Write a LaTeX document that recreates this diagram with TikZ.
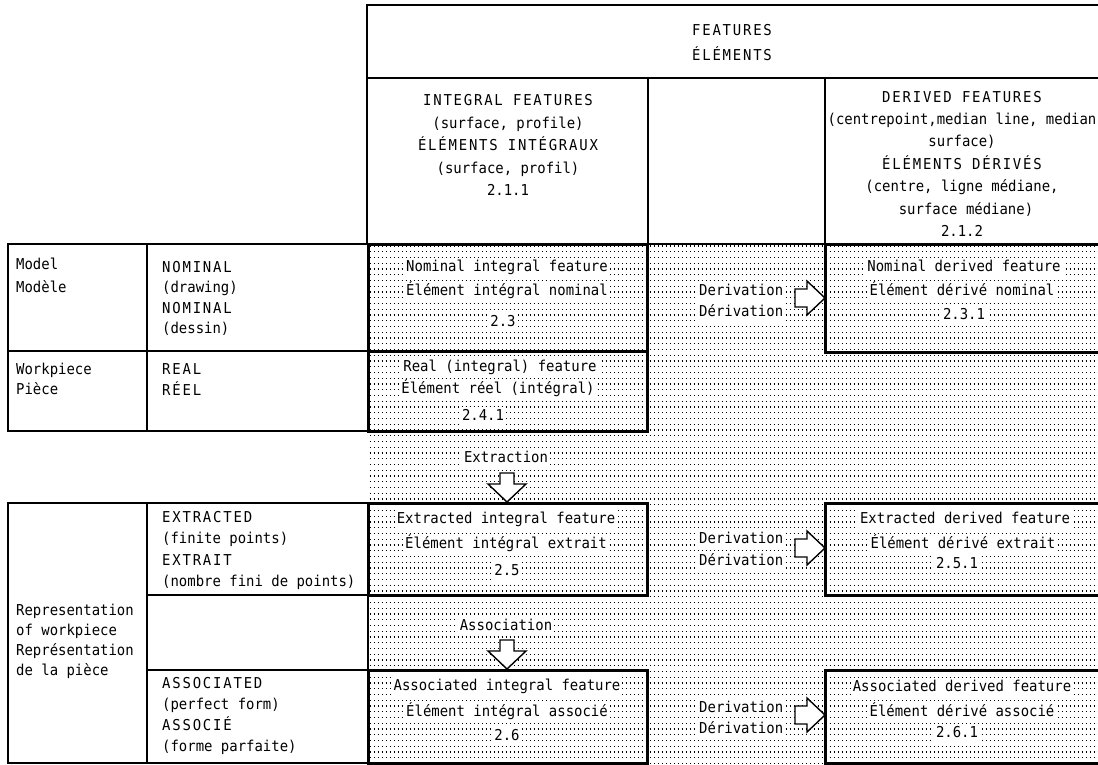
\documentclass[tikz,border=0pt]{standalone}
\usepackage{fontspec}
\setmainfont{DejaVu Sans Mono}[FakeStretch=0.93]
\newcommand{\cps}[1]{{\addfontfeature{LetterSpace=12}#1}}
\begin{document}
\begin{tikzpicture}[x=1pt,y=-1pt,
  every node/.style={font=\fontsize{15}{18}\selectfont, inner sep=0pt},
  lbl/.style={anchor=base west},
  ctr/.style={anchor=base},
  wl/.style={anchor=base, fill=white, inner xsep=2pt, inner ysep=1.5pt, text height=11.5pt, text depth=3.2pt},
  wlw/.style={wl, anchor=base west},
  frame/.style={line width=2.6pt},
  thinl/.style={line width=2pt},
  boxl/.style={line width=3pt},
  dotrow/.style={line width=1.1pt, dash pattern=on 1.1pt off 2.9pt},
  blockarrow/.style={draw, fill=white, line width=1.4pt, line join=miter},
]
\useasboundingbox (0,0) rectangle (1098,765);
\fill[white] (0,0) rectangle (1098,765);

% dotted field
\foreach \i in {0,...,90} {\draw[dotrow] (369.5,{246+5.75*\i}) -- (1100,{246+5.75*\i});}

% block arrows
\coordinate (tN) at (825,298);
\coordinate (tE) at (825,548);
\coordinate (tA) at (825,715);
\coordinate (tX) at (507,502);
\coordinate (tS) at (507,669);
\foreach \t in {tN,tE,tA}
  \draw[blockarrow, shift={(\t)}] (0,0) -- (-18,-17) -- (-18,-9) -- (-30,-9) -- (-30,9) -- (-18,9) -- (-18,17) -- cycle;
\foreach \t in {tX,tS}
  \draw[blockarrow, shift={(\t)}] (0,0) -- (-19,-18) -- (-7,-18) -- (-7,-29) -- (7,-29) -- (7,-18) -- (19,-18) -- cycle;

% header texts
\node[ctr] (hF) at (732,36) {\cps{FEATURES}};
\node[ctr] (hE) at (732,61) {\cps{ÉLÉMENTS}};
\node[ctr] (i1) at (508,106) {\cps{INTEGRAL FEATURES}};
\node[ctr] (i2) at (508,128.5) {(surface, profile)};
\node[ctr] (i3) at (508,151) {\cps{ÉLÉMENTS INTÉGRAUX}};
\node[ctr] (i4) at (508,173.5) {(surface, profil)};
\node[ctr] (i5) at (508,196) {2.1.1};
\node[ctr] (d1) at (962,103) {\cps{DERIVED FEATURES}};
\node[ctr] (d2) at (962,125) {(centrepoint,median line, median};
\node[ctr] (d3) at (962,147) {surface)};
\node[ctr] (d4) at (962,169) {\cps{ÉLÉMENTS DÉRIVÉS}};
\node[ctr] (d5) at (962,192) {(centre, ligne médiane,};
\node[ctr] (d6) at (966,214) {surface médiane)};
\node[ctr] (d7) at (962,236) {2.1.2};

% left table texts
\node[lbl] (m1) at (16,269) {Model};
\node[lbl] (m2) at (16,292) {Modèle};
\node[lbl] (m3) at (162,272) {\cps{NOMINAL}};
\node[lbl] (m4) at (162,292) {(drawing)};
\node[lbl] (m5) at (162,313) {\cps{NOMINAL}};
\node[lbl] (m6) at (162,333) {(dessin)};
\node[lbl] (w1) at (16,374) {Workpiece};
\node[lbl] (w2) at (16,394) {Pièce};
\node[lbl] (w3) at (162,374) {\cps{REAL}};
\node[lbl] (w4) at (162,395) {\cps{RÉEL}};
\node[lbl] (x1) at (162,522) {\cps{EXTRACTED}};
\node[lbl] (x2) at (162,543) {(finite points)};
\node[lbl] (x3) at (162,565) {\cps{EXTRAIT}};
\node[lbl] (x4) at (162,586) {(nombre fini de points)};
\node[lbl] (p1) at (16,615) {Representation};
\node[lbl] (p2) at (16,635) {of workpiece};
\node[lbl] (p3) at (16,655) {Représentation};
\node[lbl] (p4) at (16,675) {de la pièce};
\node[lbl] (s1) at (162,688) {\cps{ASSOCIATED}};
\node[lbl] (s2) at (162,709) {(perfect form)};
\node[lbl] (s3) at (162,730) {\cps{ASSOCIÉ}};
\node[lbl] (s4) at (162,751) {(forme parfaite)};

% integral features
\node[wl] (n1) at (507,271) {Nominal integral feature};
\node[wl] (n2) at (507,295) {Élément intégral nominal};
\node[wl] (n3) at (503,326) {2.3};
\node[wl] (r1) at (500,371) {Real (integral) feature};
\node[wl] (r2) at (498,393) {Élément réel (intégral)};
\node[wl] (r3) at (483,420) {2.4.1};
\node[wl] (ex) at (506,462) {Extraction};
\node[wl] (e1) at (506,523) {Extracted integral feature};
\node[wl] (e2) at (506,548) {Élément intégral extrait};
\node[wl] (e3) at (507,575) {2.5};
\node[wl] (as) at (506,630) {Association};
\node[wl] (a1) at (507,690) {Associated integral feature};
\node[wl] (a2) at (507,716) {Élément intégral associé};
\node[wl] (a3) at (507,740) {2.6};

% derivation labels
\node[wlw] (v1) at (697,295) {Derivation};
\node[wlw] (v2) at (697,316) {Dérivation};
\node[wlw] (v3) at (697,543) {Derivation};
\node[wlw] (v4) at (697,565) {Dérivation};
\node[wlw] (v5) at (697,712) {Derivation};
\node[wlw] (v6) at (697,733) {Dérivation};

% derived features
\node[wl] (dn1) at (964,271) {Nominal derived feature};
\node[wl] (dn2) at (962,295) {Élément dérivé nominal};
\node[wl] (dn3) at (964,319) {2.3.1};
\node[wl] (de1) at (965,523) {Extracted derived feature};
\node[wl] (de2) at (963,548) {Élément dérivé extrait};
\node[wl] (de3) at (957,568) {2.5.1};
\node[wl] (da1) at (962,691) {Associated derived feature};
\node[wl] (da2) at (962,716) {Élément dérivé associé};
\node[wl] (da3) at (957,737) {2.6.1};

% header frame
\draw[frame] (1102,5) -- (367,5) -- (367,244);
\draw[frame] (367,78) -- (1102,78);
\draw[frame] (648,78) -- (648,244);
\draw[frame] (825,78) -- (825,244);
\draw[frame] (648,244) -- (825,244);

% left tables
\draw[frame] (8,244) rectangle (368,431);
\draw[frame] (147,244) -- (147,431);
\draw[thinl] (8,351) -- (368,351);
\draw[frame] (8,503) rectangle (368,763);
\draw[frame] (147,503) -- (147,763);
\draw[thinl] (147,595) -- (368,595);
\draw[thinl] (147,670) -- (368,670);

% integral boxes
\draw[boxl] (368,244) rectangle (647,351);
\draw[boxl] (368,351) rectangle (647,431);
\draw[boxl] (368,503) rectangle (647,595);
\draw[boxl] (368,670) rectangle (647,763);

% derived boxes
\draw[boxl] (1102,244) -- (825,244) -- (825,352) -- (1102,352);
\draw[boxl] (1102,503) -- (825,503) -- (825,595) -- (1102,595);
\draw[boxl] (1102,670) -- (825,670) -- (825,763) -- (1102,763);
\end{tikzpicture}
\end{document}
